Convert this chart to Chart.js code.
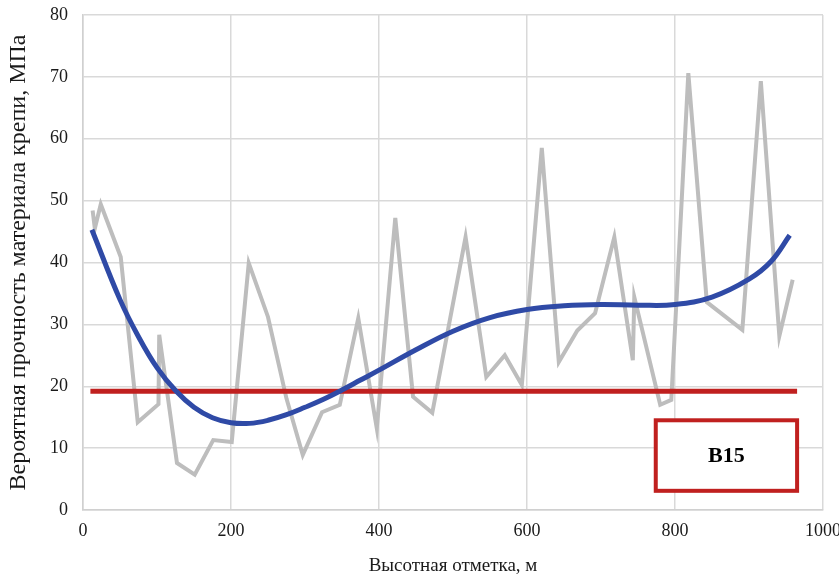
<!DOCTYPE html>
<html>
<head>
<meta charset="utf-8">
<script src="https://cdn.jsdelivr.net/npm/chart.js@4"></script>
<style>
  html, body { margin: 0; padding: 0; background: #fff; }
  #wrap { width: 839px; height: 581px; }
</style>
</head>
<body>
<div id="wrap"><canvas id="strengthChart"></canvas></div>
<script>
// measured strength along the height (gray)
const heightPoints = [13, 16, 24, 51, 74, 102, 103, 127, 151, 176, 201, 224, 250, 275, 297, 323, 347, 372, 397, 422, 446, 472, 517, 545, 570, 593, 620, 643, 668, 692, 718, 743, 745, 780, 795, 818, 843, 891, 916, 941, 959];
const strengthValues = [48.4, 45.5, 49.4, 40.9, 14.2, 17.1, 28.3, 7.6, 5.7, 11.3, 11.0, 39.9, 31.2, 18.0, 8.9, 15.8, 17.0, 31.0, 13.2, 47.2, 18.3, 15.7, 44.1, 21.5, 25.0, 20.2, 58.5, 23.9, 29.0, 31.8, 44.1, 24.2, 34.4, 17.0, 17.8, 70.6, 33.6, 29.1, 69.3, 28.1, 37.2];

// trend curve (blue)
const trendHeights = [12, 50, 75, 100, 125, 150, 175, 200, 225, 250, 275, 300, 325, 350, 375, 400, 450, 500, 550, 600, 650, 700, 750, 800, 850, 900, 930, 955];
const trendValues = [45.3, 34.0, 28.0, 23.0, 19.3, 16.6, 14.9, 14.1, 14.0, 14.5, 15.4, 16.6, 17.9, 19.4, 21.0, 22.6, 25.9, 28.9, 31.1, 32.4, 33.0, 33.2, 33.1, 33.2, 34.4, 37.3, 40.2, 44.4];

// class B15 level (red)
const classHeights = [10, 965];
const classValues = [19.2, 19.2];
const classLabel = 'B15';
const labelBox = { x0: 774, x1: 965, y0: 14.5, y1: 3.1 };

const xTicks = [0, 200, 400, 600, 800, 1000];
const yTicks = [0, 10, 20, 30, 40, 50, 60, 70, 80];

function toPoints(xs, ys) {
    return xs.map((x, i) => ({ x: x, y: ys[i] }));
}

const serif = '"Liberation Serif", "Times New Roman", serif';

// draws the B15 frame in data coordinates
const labelBoxPlugin = {
    id: 'labelBox',
    afterDatasetsDraw(chart) {
        const ctx = chart.ctx;
        const xs = chart.scales.x, ys = chart.scales.y;
        const left = xs.getPixelForValue(labelBox.x0);
        const right = xs.getPixelForValue(labelBox.x1);
        const top = ys.getPixelForValue(labelBox.y0);
        const bottom = ys.getPixelForValue(labelBox.y1);
        ctx.save();
        ctx.fillStyle = '#ffffff';
        ctx.fillRect(left, top, right - left, bottom - top);
        ctx.strokeStyle = '#c0201f';
        ctx.lineWidth = 4;
        ctx.strokeRect(left, top, right - left, bottom - top);
        ctx.fillStyle = '#000';
        ctx.font = 'bold 22px ' + serif;
        ctx.textAlign = 'center';
        ctx.textBaseline = 'middle';
        ctx.fillText(classLabel, (left + right) / 2, (top + bottom) / 2 + 1);
        ctx.restore();
    }
};

function createChart() {
    const ctx = document.getElementById('strengthChart').getContext('2d');
    new Chart(ctx, {
        type: 'line',
        data: {
            datasets: [
                {
                    label: 'Тренд',
                    data: toPoints(trendHeights, trendValues),
                    borderColor: '#2f4aa6',
                    borderWidth: 5,
                    pointRadius: 0,
                    tension: 0.4,
                    fill: false,
                    order: 0
                },
                {
                    label: classLabel,
                    data: toPoints(classHeights, classValues),
                    borderColor: '#c0201f',
                    borderWidth: 5,
                    pointRadius: 0,
                    fill: false,
                    order: 1
                },
                {
                    label: 'Прочность',
                    data: toPoints(heightPoints, strengthValues),
                    borderColor: '#bdbdbd',
                    borderWidth: 4,
                    pointRadius: 0,
                    tension: 0,
                    fill: false,
                    order: 2
                }
            ]
        },
        options: {
            responsive: true,
            maintainAspectRatio: false,
            animation: false,
            layout: { padding: 0 },
            plugins: { legend: { display: false }, tooltip: { enabled: false } },
            scales: {
                x: {
                    type: 'linear',
                    min: 0,
                    max: 1000,
                    afterBuildTicks: (axis) => { axis.ticks = xTicks.map(v => ({ value: v })); },
                    grid: { color: '#d9d9d9', lineWidth: 1.5, drawTicks: false },
                    border: { color: '#d0d0d0', width: 1.5 },
                    ticks: { color: '#1a1a1a', font: { family: serif, size: 18 }, padding: 10, maxRotation: 0,
                             callback: (v) => String(v) },
                    title: { display: true, text: 'Высотная отметка, м', color: '#1a1a1a', font: { family: serif, size: 19 }, padding: { top: 5 } },
                    afterFit: (axis) => { axis.height = 71; axis.paddingRight = 16; axis.paddingLeft = 0; }
                },
                y: {
                    min: 0,
                    max: 80,
                    afterBuildTicks: (axis) => { axis.ticks = yTicks.map(v => ({ value: v })); },
                    grid: { color: '#d9d9d9', lineWidth: 1.5, drawTicks: false },
                    border: { color: '#d0d0d0', width: 1.5 },
                    ticks: { color: '#1a1a1a', font: { family: serif, size: 18 }, padding: 15 },
                    title: { display: true, text: 'Вероятная прочность материала крепи, МПа', color: '#1a1a1a', font: { family: serif, size: 24 }, padding: { bottom: 2 } },
                    afterFit: (axis) => { axis.width = 83; axis.paddingTop = 15; axis.paddingBottom = 0; }
                }
            }
        },
        plugins: [labelBoxPlugin]
    });
}

document.addEventListener('DOMContentLoaded', createChart);
</script>
</body>
</html>
